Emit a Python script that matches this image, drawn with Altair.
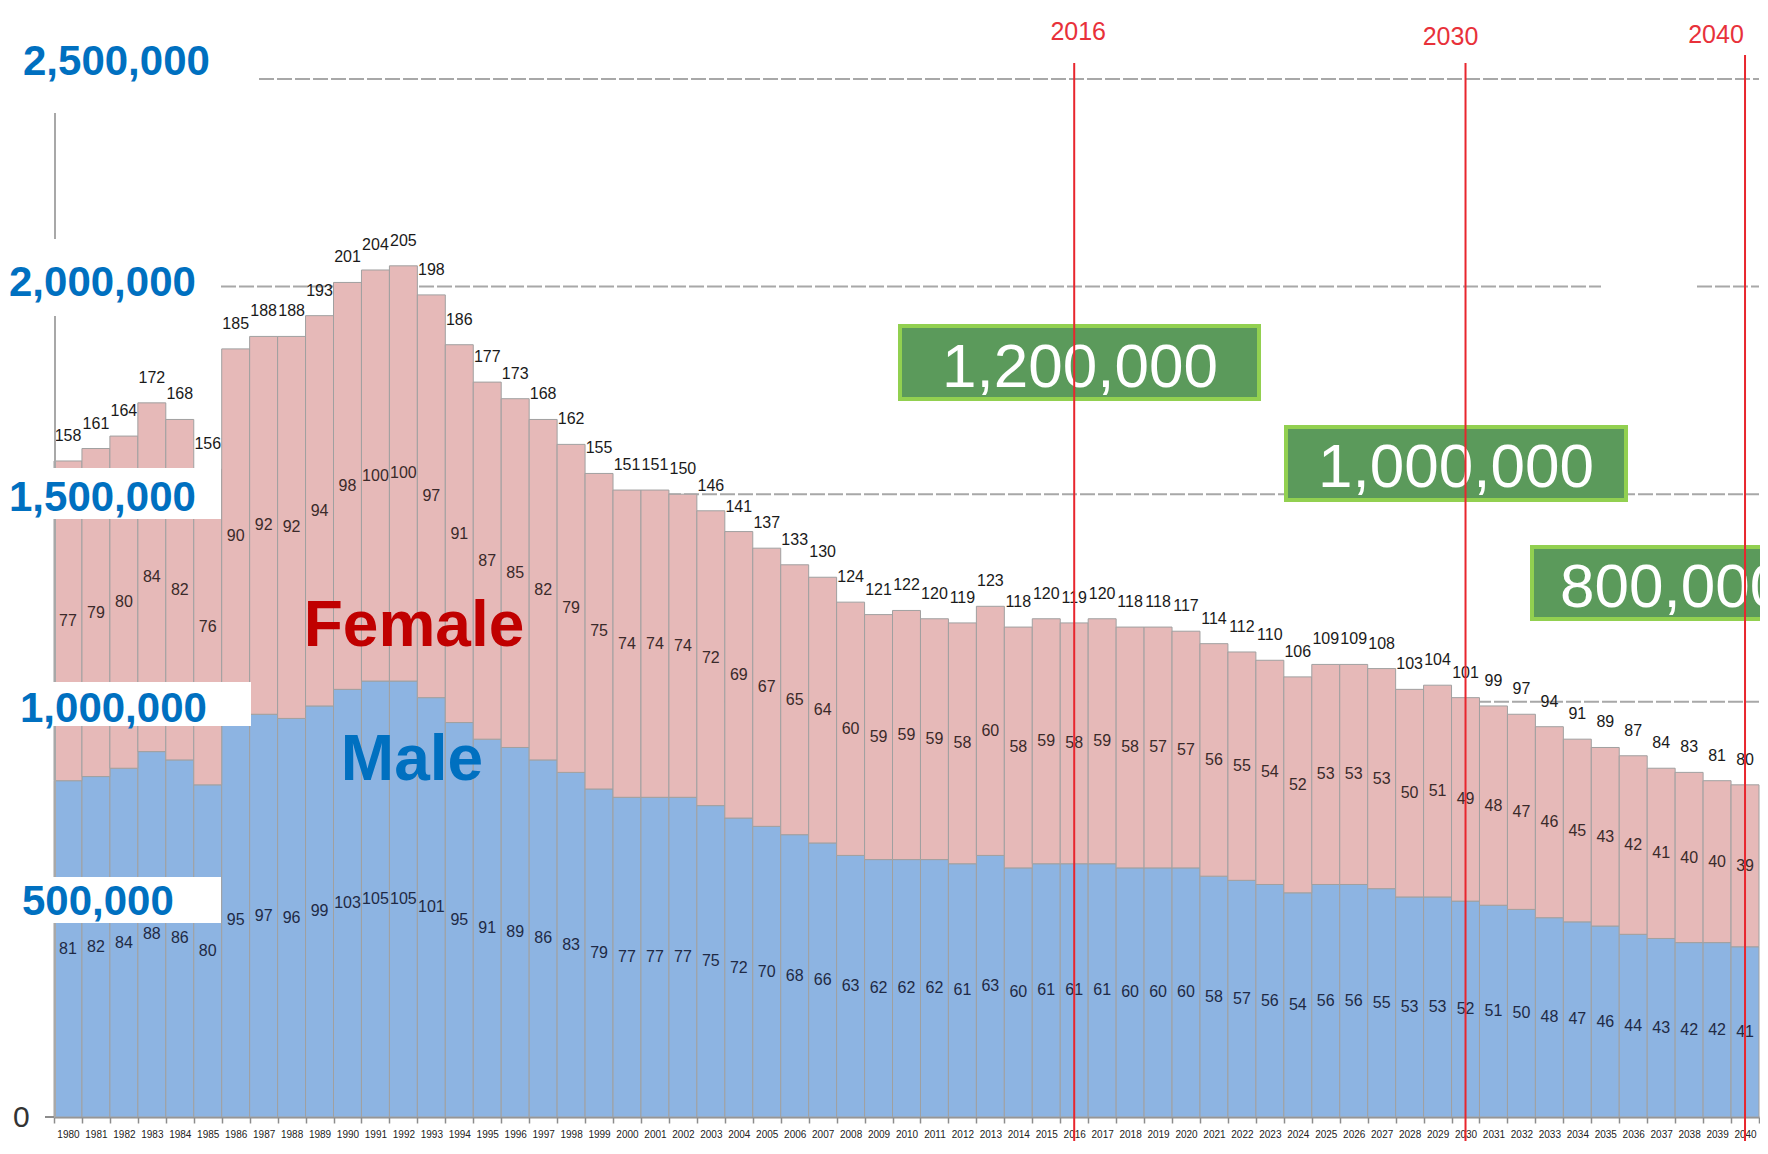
import altair as alt
import pandas as pd

# ---------------- data (births, unit: 10,000 people) ----------------
years = list(range(1980, 2041))
total = [158, 161, 164, 172, 168, 156, 185, 188, 188, 193,
         201, 204, 205, 198, 186, 177, 173, 168, 162, 155,
         151, 151, 150, 146, 141, 137, 133, 130, 124, 121,
         122, 120, 119, 123, 118, 120, 119, 120, 118, 118,
         117, 114, 112, 110, 106, 109, 109, 108, 103, 104,
         101, 99, 97, 94, 91, 89, 87, 84, 83, 81, 80]
female = [77, 79, 80, 84, 82, 76, 90, 92, 92, 94,
          98, 100, 100, 97, 91, 87, 85, 82, 79, 75,
          74, 74, 74, 72, 69, 67, 65, 64, 60, 59,
          59, 59, 58, 60, 58, 59, 58, 59, 58, 57,
          57, 56, 55, 54, 52, 53, 53, 53, 50, 51,
          49, 48, 47, 46, 45, 43, 42, 41, 40, 40, 39]
male = [81, 82, 84, 88, 86, 80, 95, 97, 96, 99,
        103, 105, 105, 101, 95, 91, 89, 86, 83, 79,
        77, 77, 77, 75, 72, 70, 68, 66, 63, 62,
        62, 62, 61, 63, 60, 61, 61, 61, 60, 60,
        60, 58, 57, 56, 54, 56, 56, 55, 53, 53,
        52, 51, 50, 48, 47, 46, 44, 43, 42, 42, 41]
UNIT = 10000

marker_years = [2016, 2030, 2040]
marker_labels = ["2016", "2030", "2040"]
target_labels = ["1,200,000", "1,000,000", "800,000"]
y_tick_values = [2500000, 2000000, 1500000, 1000000, 500000, 0]
y_tick_labels = ["2,500,000", "2,000,000", "1,500,000", "1,000,000", "500,000", "0"]

# ---------------- layout (page pixels) ----------------
X0, Y0 = 54, 79          # page position of the plot origin
W, H = 1705, 1038        # plot area
PAD = {"left": 46, "top": 71, "right": 1, "bottom": 24}
BOTTOM = 1141 - Y0       # bottom edge of the svg in view coords


def px(x):
    return x - X0


def py(y):
    return y - Y0


SANS = "Liberation Sans, Arial, sans-serif"

one = pd.DataFrame({"k": [0]})
xscale = alt.Scale(domain=years, paddingInner=0, paddingOuter=0)
yscale = alt.Scale(domain=[0, 2500000], nice=False, zero=True)


def X():
    return alt.X("year:O", scale=xscale, title=None)


bars_df = pd.DataFrame({
    "year": years * 2,
    "sex": ["Male"] * len(years) + ["Female"] * len(years),
    "lo": [0] * len(years) + [m * UNIT for m in male],
    "hi": [m * UNIT for m in male] + [t * UNIT for t in total],
})
lab_df = pd.DataFrame({"year": years, "total": total, "female": female, "male": male})
lab_df["total_y"] = lab_df["total"] * UNIT
lab_df["female_y"] = (lab_df["male"] + lab_df["total"]) / 2 * UNIT
lab_df["male_y"] = lab_df["male"] / 2 * UNIT

layers = []

# gridlines (behind bars)
grid_segments = [(2500000, 259, 1759), (2000000, 221, 1601), (2000000, 1697, 1759),
                 (1500000, 54, 1759), (1000000, 54, 1759)]
for v, x1, x2 in grid_segments:
    layers.append(
        alt.Chart(pd.DataFrame({"v": [v]})).mark_rule(
            color="#a8a8a8", strokeWidth=2, strokeDash=[15, 3]
        ).encode(
            y=alt.Y("v:Q", scale=yscale, axis=None),
            x=alt.value(px(x1)), x2=alt.value(px(x2)),
        )
    )

# stacked bars
layers.append(
    alt.Chart(bars_df).mark_bar(stroke="#a0a0a0", strokeWidth=1).encode(
        x=X(),
        y=alt.Y("lo:Q", scale=yscale, axis=None),
        y2="hi:Q",
        color=alt.Color("sex:N", legend=None,
                        scale=alt.Scale(domain=["Male", "Female"],
                                        range=["#8DB4E2", "#E6B9B8"])),
    )
)

# value labels
for field, yfield, col, dy in [("total", "total_y", "#1a1a1a", -25),
                               ("female", "female_y", "#3a2a2a", 0),
                               ("male", "male_y", "#1f2a45", 0)]:
    layers.append(
        alt.Chart(lab_df).mark_text(font=SANS, fontSize=16, color=col, dy=dy,
                                    baseline="middle").encode(
            x=X(),
            y=alt.Y(f"{yfield}:Q", scale=yscale, axis=None),
            text=alt.Text(f"{field}:Q"),
        )
    )

# series names
layers.append(alt.Chart(one).mark_text(text="Female", font=SANS, fontSize=64, fontWeight="bold",
                                       color="#C00000", baseline="alphabetic").encode(
    x=alt.value(px(414)), y=alt.value(py(646))))
layers.append(alt.Chart(one).mark_text(text="Male", font=SANS, fontSize=64, fontWeight="bold",
                                       color="#0070C0", baseline="alphabetic").encode(
    x=alt.value(px(412)), y=alt.value(py(780))))

# axis line at left
layers.append(alt.Chart(one).mark_rule(color="#a8a8a8", strokeWidth=2).encode(
    x=alt.value(1), y=alt.value(py(113)), y2=alt.value(H)))
# short stub of the x axis line left of the first bar
layers.append(alt.Chart(one).mark_rule(color="#8c8c8c", strokeWidth=2).encode(
    x=alt.value(px(45)), x2=alt.value(0), y=alt.value(H)))

# white label boxes
for (l, t, r, b) in [(0, 20, 259, 113), (0, 239, 221, 316), (0, 468, 221, 519),
                     (0, 682, 251, 726), (0, 877, 221, 923)]:
    layers.append(alt.Chart(one).mark_rect(color="white").encode(
        x=alt.value(px(l)), x2=alt.value(px(r)), y=alt.value(py(t)), y2=alt.value(py(b))))

# y tick labels
y_label_style = [(23, -4), (9, 9), (9, 17), (20, 20), (22, 6), (13, 10)]
for v, txt, (left, dy) in zip(y_tick_values, y_tick_labels, y_label_style):
    zero = v == 0
    layers.append(
        alt.Chart(pd.DataFrame({"v": [v]})).mark_text(
            text=txt, font=SANS, fontSize=30 if zero else 42,
            fontWeight="normal" if zero else "bold",
            color="#333333" if zero else "#0070C0",
            align="left", baseline="alphabetic", dy=dy,
        ).encode(x=alt.value(px(left)), y=alt.Y("v:Q", scale=yscale, axis=None))
    )

# green target boxes
green_boxes = [(900, 326, 1259, 399), (1286, 427, 1626, 500), (1532, 547, 1800, 619)]
green_text = [(1080, 387, "center"), (1456, 487, "center"), (1560, 607, "left")]
for (l, t, r, b), (tx, ty, al), txt in zip(green_boxes, green_text, target_labels):
    layers.append(alt.Chart(one).mark_rect(fill="#5B9A5B", stroke="#92D050", strokeWidth=4).encode(
        x=alt.value(px(l)), x2=alt.value(px(r)), y=alt.value(py(t)), y2=alt.value(py(b))))
    layers.append(alt.Chart(one).mark_text(text=txt, font=SANS, fontSize=62, color="white",
                                           align=al, baseline="alphabetic").encode(
        x=alt.value(px(tx)), y=alt.value(py(ty))))

# red marker lines and labels
line_tops = [63, 63, 55]
label_style = [(4, 40), (-15, 45), (-29, 43)]
for yr, txt, top, (dx, base) in zip(marker_years, marker_labels, line_tops, label_style):
    d = pd.DataFrame({"year": [yr]})
    layers.append(alt.Chart(d).mark_rule(color="#E8262E", strokeWidth=2).encode(
        x=X(), y=alt.value(py(top)), y2=alt.value(BOTTOM)))
    layers.append(alt.Chart(d).mark_text(text=txt, font=SANS, fontSize=25, color="#E8313A",
                                         dx=dx, baseline="alphabetic").encode(
        x=X(), y=alt.value(py(base))))

chart = alt.layer(*layers).properties(
    width=W, height=H,
    autosize=alt.AutoSizeParams(type="none"),
    padding=PAD,
    background="white",
).configure_view(
    strokeWidth=0
).configure_axisX(
    labelAngle=0, labelFontSize=10, labelFont=SANS, labelColor="#222222",
    labelPadding=6, labelOverlap=False, labelBaseline="top",
    tickBand="extent", tickSize=6, tickColor="#8c8c8c", tickWidth=1.5,
    domainColor="#8c8c8c", domainWidth=2, grid=False, zindex=1,
)

chart.save("out.html", embed_options={"renderer": "svg", "actions": False})
